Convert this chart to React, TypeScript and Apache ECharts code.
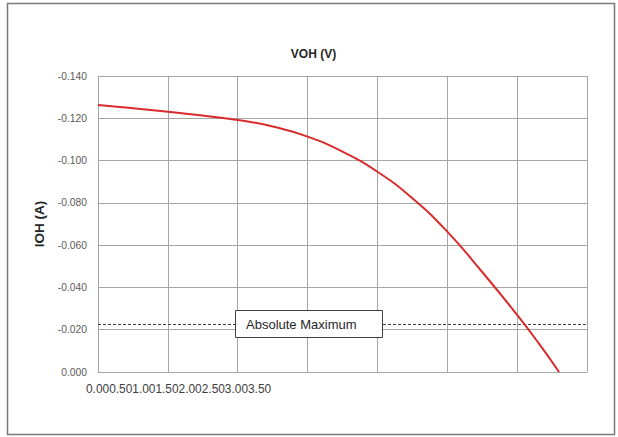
import React, { useEffect, useRef } from "react";
import * as echarts from "echarts";

const vohValues = [0, 0.5, 1.0, 1.25, 1.5, 1.75, 2.0, 2.25, 2.5, 2.75, 3.0, 3.15, 3.3];
const iohValues = [-0.1263, -0.1231, -0.1192, -0.1161, -0.1113, -0.1042, -0.0947, -0.0822, -0.0664, -0.0473, -0.027, -0.014, 0];
const xTickLabels = ["0.00", "0.50", "1.00", "1.50", "2.00", "2.50", "3.00", "3.50"];
const absoluteMaximum = -0.0225;
const absoluteMaximumLabel = "Absolute Maximum";
const chartTitle = "VOH (V)";
const yAxisTitle = "IOH (A)";

const FONT = "'Liberation Sans', Arial, sans-serif";

export default function App() {
  const ref = useRef<HTMLDivElement>(null);
  useEffect(() => {
    if (!ref.current) return;
    const chart = echarts.init(ref.current, null, { renderer: "svg" });
    const data = vohValues.map((v, i) => [v, iohValues[i]]);
    chart.setOption({
      animation: false,
      backgroundColor: "#ffffff",
      textStyle: { fontFamily: FONT },
      title: {
        text: chartTitle,
        left: 308.5,
        textAlign: "center",
        top: 43,
        textStyle: { fontSize: 12, fontWeight: "bold", color: "#262626", fontFamily: FONT },
      },
      grid: { left: 98, right: 31, top: 76, bottom: 65, containLabel: false },
      xAxis: {
        type: "value",
        min: 0,
        max: 3.5,
        interval: 0.5,
        axisLabel: { show: false },
        axisTick: { show: false },
        axisLine: { show: true, lineStyle: { color: "#a6a6a6", width: 1 } },
        splitLine: { show: true, lineStyle: { color: "#a6a6a6", width: 1 } },
      },
      yAxis: {
        type: "value",
        inverse: true,
        min: -0.14,
        max: 0,
        interval: 0.02,
        name: yAxisTitle,
        nameLocation: "middle",
        nameRotate: 90,
        nameGap: 50,
        nameTextStyle: { fontSize: 13.5, fontWeight: "bold", color: "#262626", fontFamily: FONT },
        axisLabel: {
          formatter: (v: number) => v.toFixed(3),
          fontSize: 10.3,
          color: "#595959",
          margin: 11,
          fontFamily: FONT,
        },
        axisTick: { show: false },
        axisLine: { show: true, lineStyle: { color: "#a6a6a6", width: 1 } },
        splitLine: { show: true, lineStyle: { color: "#a6a6a6", width: 1 } },
      },
      series: [
        {
          type: "line",
          data,
          smooth: 0.5,
          showSymbol: false,
          symbol: "none",
          lineStyle: { color: "#d92b2b", width: 2 },
          z: 3,
          markLine: {
            silent: true,
            precision: 4,
            symbol: ["none", "none"],
            label: { show: false },
            lineStyle: { type: [3, 2], color: "#404040", width: 1 },
            data: [{ yAxis: absoluteMaximum }],
            z: 2,
          },
        },
      ],
      graphic: [
        {
          type: "rect",
          z: 0,
          silent: true,
          shape: { x: 7.5, y: 3.5, width: 607, height: 431 },
          style: { fill: "none", stroke: "#7a7a7a", lineWidth: 1.5 },
        },
        {
          type: "rect",
          z: 100,
          silent: true,
          shape: { x: 235.5, y: 310.5, width: 147, height: 27 },
          style: { fill: "#ffffff", stroke: "#404040", lineWidth: 1 },
        },
        {
          type: "text",
          x: 246,
          y: 324,
          z: 101,
          silent: true,
          style: {
            text: absoluteMaximumLabel,
            fontSize: 13,
            fontFamily: FONT,
            fill: "#262626",
            verticalAlign: "middle",
          },
        },
        {
          type: "text",
          x: 86,
          y: 389,
          z: 100,
          style: {
            text: xTickLabels.join(""),
            fontSize: 11.9,
            fontFamily: FONT,
            fill: "#404040",
            verticalAlign: "middle",
          },
        },
      ],
    });
    return () => chart.dispose();
  }, []);
  return (
    <div
      ref={ref}
      style={{ position: "fixed", left: 0, top: 0, width: 618, height: 437 }}
    />
  );
}
